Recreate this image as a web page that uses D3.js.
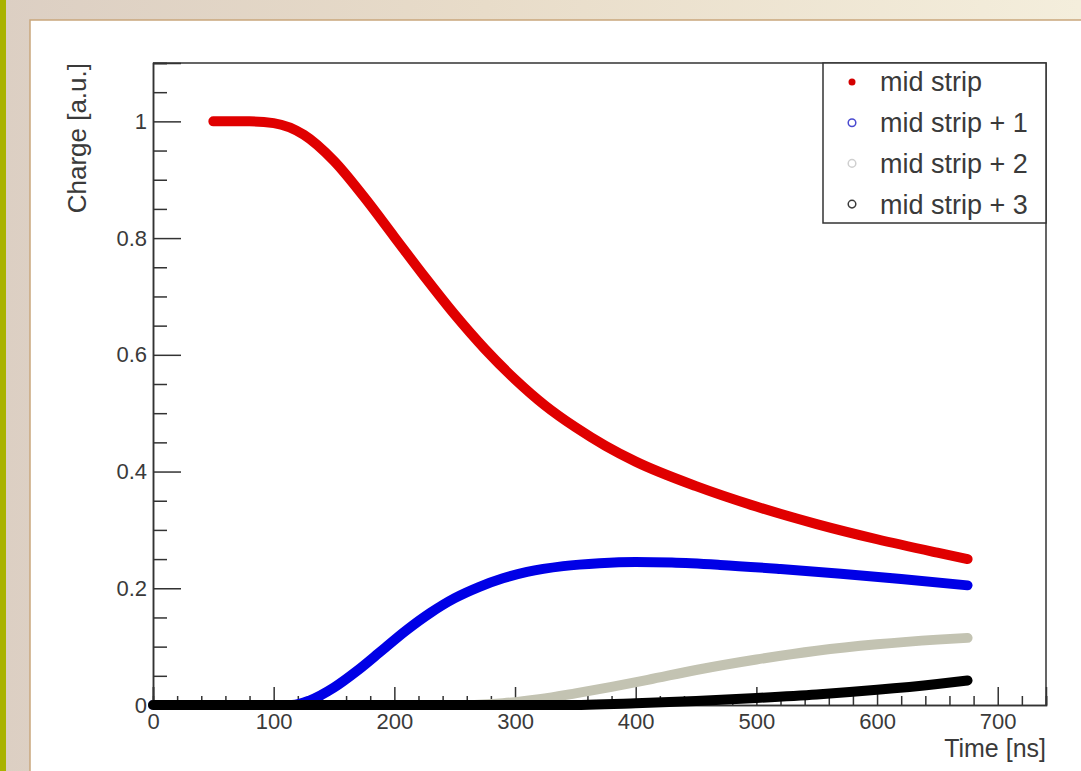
<!DOCTYPE html>
<html>
<head>
<meta charset="utf-8">
<script src="https://cdn.jsdelivr.net/npm/d3@7"></script>
<style>
  html, body { margin: 0; padding: 0; overflow: hidden; }
  svg { display: block; }
  text { font-family: "Liberation Sans", Arial, sans-serif; fill: #3a3a3a; }
</style>
</head>
<body>
<script>
// 数据: 每条曲线 时间(ns) / 电荷(a.u.)
const redTime = [50, 80, 100, 125, 150, 175, 200, 225, 250, 275, 300, 325, 350, 375, 400, 450, 500, 550, 600, 650, 675];
const redCharge = [1.0, 1.0, 0.997, 0.977, 0.932, 0.87, 0.802, 0.734, 0.669, 0.61, 0.558, 0.513, 0.476, 0.444, 0.417, 0.375, 0.34, 0.31, 0.284, 0.261, 0.25];

const blueTime = [0, 100, 115, 130, 150, 170, 190, 210, 230, 250, 270, 290, 310, 340, 370, 400, 430, 470, 520, 570, 620, 675];
const blueCharge = [0, 0, 0, 0.008, 0.03, 0.06, 0.094, 0.128, 0.158, 0.183, 0.202, 0.217, 0.228, 0.238, 0.243, 0.245, 0.244, 0.24, 0.233, 0.225, 0.216, 0.205];

const grayTime = [0, 260, 290, 320, 350, 380, 410, 450, 500, 550, 600, 650, 675];
const grayCharge = [0, 0, 0.003, 0.01, 0.02, 0.031, 0.043, 0.06, 0.078, 0.093, 0.104, 0.112, 0.115];

const blackTime = [0, 340, 400, 450, 500, 550, 600, 650, 675];
const blackCharge = [0, 0, 0.003, 0.007, 0.012, 0.018, 0.026, 0.036, 0.042];

const legendLabels = ['mid strip', 'mid strip + 1', 'mid strip + 2', 'mid strip + 3'];
const xTicks = [0, 100, 200, 300, 400, 500, 600, 700];
const yTicks = [0, 0.2, 0.4, 0.6, 0.8, 1];

const W = 1081, H = 771;
const frame = { left: 153, top: 63, right: 1046, bottom: 705 };

const series = [
  { time: redTime, charge: redCharge, color: '#e00000', marker: 'fill', mcolor: '#d40000' },
  { time: blueTime, charge: blueCharge, color: '#0000e6', marker: 'open', mcolor: '#4a4ad0' },
  { time: grayTime, charge: grayCharge, color: '#c3c3b2', marker: 'open', mcolor: '#cfcfcf' },
  { time: blackTime, charge: blackCharge, color: '#000000', marker: 'open', mcolor: '#3a3a3a' }
];

const svg = d3.select('body').append('svg').attr('width', W).attr('height', H);

// 背景 (米色纹理的近似)
const defs = svg.append('defs');
const grad = defs.append('linearGradient').attr('id', 'bg').attr('x1', '0').attr('x2', '1').attr('y1', '0').attr('y2', '0');
grad.append('stop').attr('offset', '0%').attr('stop-color', '#dccfc3');
grad.append('stop').attr('offset', '45%').attr('stop-color', '#e8dcc9');
grad.append('stop').attr('offset', '100%').attr('stop-color', '#f4eedc');
svg.append('rect').attr('width', W).attr('height', H).attr('fill', 'url(#bg)');
svg.append('rect').attr('width', 6).attr('height', H).attr('fill', '#a9b300');

// 白色画布
svg.append('rect')
  .attr('x', 30).attr('y', 20).attr('width', W).attr('height', H)
  .attr('fill', '#ffffff').attr('stroke', '#c9a77c').attr('stroke-width', 1.5);

const x = d3.scaleLinear().domain([0, 740]).range([frame.left, frame.right]);
const y = d3.scaleLinear().domain([0, 1.1]).range([frame.bottom, frame.top]);

// 坐标轴: 刻度朝内 (ROOT 风格)
const xMinor = d3.range(0, 741, 20).filter(v => v % 100 !== 0);
const yMinor = d3.range(0, 1.101, 0.05).filter(v => Math.abs(v * 5 - Math.round(v * 5)) > 1e-6);

const gx = svg.append('g').attr('transform', `translate(0,${frame.bottom})`);
gx.call(d3.axisBottom(x).tickValues(xTicks).tickSize(-18).tickPadding(8).tickFormat(d3.format('d')));
gx.append('g').call(d3.axisBottom(x).tickValues(xMinor).tickSize(-9).tickFormat(''));

const gy = svg.append('g').attr('transform', `translate(${frame.left},0)`);
gy.call(d3.axisLeft(y).tickValues(yTicks).tickSize(-28).tickPadding(6).tickFormat(d => d === 0 ? '0' : d3.format('.1f')(d).replace(/\.0$/, '')));
gy.append('g').call(d3.axisLeft(y).tickValues(yMinor).tickSize(-14).tickFormat(''));

svg.selectAll('.domain').attr('stroke', '#333').attr('stroke-width', 1.5);
svg.selectAll('.tick line').attr('stroke', '#333').attr('stroke-width', 1.5);
svg.selectAll('.tick text').attr('font-size', 22).attr('fill', '#3a3a3a').style('font-family', '"Liberation Sans", Arial, sans-serif');

// 上边框和右边框
svg.append('path')
  .attr('d', `M${frame.left},${frame.top}H${frame.right}V${frame.bottom}`)
  .attr('fill', 'none').attr('stroke', '#333').attr('stroke-width', 1.5);

// 曲线
const line = d3.line()
  .x(d => x(d[0]))
  .y(d => y(d[1]))
  .curve(d3.curveMonotoneX);

svg.append('g')
  .selectAll('path').data(series)
  .enter()
  .append('path')
  .attr('d', s => line(s.time.map((t, i) => [t, s.charge[i]])))
  .attr('fill', 'none')
  .attr('stroke', s => s.color)
  .attr('stroke-width', 10)
  .attr('stroke-linecap', 'round')
  .attr('stroke-linejoin', 'round');

// 轴标题
svg.append('text')
  .attr('x', frame.right).attr('y', 757)
  .attr('text-anchor', 'end')
  .attr('font-size', 25)
  .text('Time [ns]');

svg.append('text')
  .attr('transform', `translate(86,${frame.top}) rotate(-90)`)
  .attr('text-anchor', 'end')
  .attr('font-size', 26)
  .text('Charge [a.u.]');

// 图例
const legend = svg.append('g');
legend.append('rect')
  .attr('x', 823).attr('y', frame.top).attr('width', frame.right - 823).attr('height', 160)
  .attr('fill', '#fff').attr('stroke', '#333').attr('stroke-width', 1.5);

const items = legend.selectAll('g.item').data(series)
  .enter().append('g')
  .attr('class', 'item')
  .attr('transform', (d, i) => `translate(852,${82 + i * 40.7})`);

items.append('circle')
  .attr('r', d => d.marker === 'fill' ? 3.5 : 3.8)
  .attr('fill', d => d.marker === 'fill' ? d.mcolor : 'none')
  .attr('stroke', d => d.mcolor)
  .attr('stroke-width', d => d.marker === 'fill' ? 0 : 1.5);

items.append('text')
  .attr('x', 28).attr('dy', '0.35em')
  .attr('font-size', 27)
  .text((d, i) => legendLabels[i]);
</script>
</body>
</html>
